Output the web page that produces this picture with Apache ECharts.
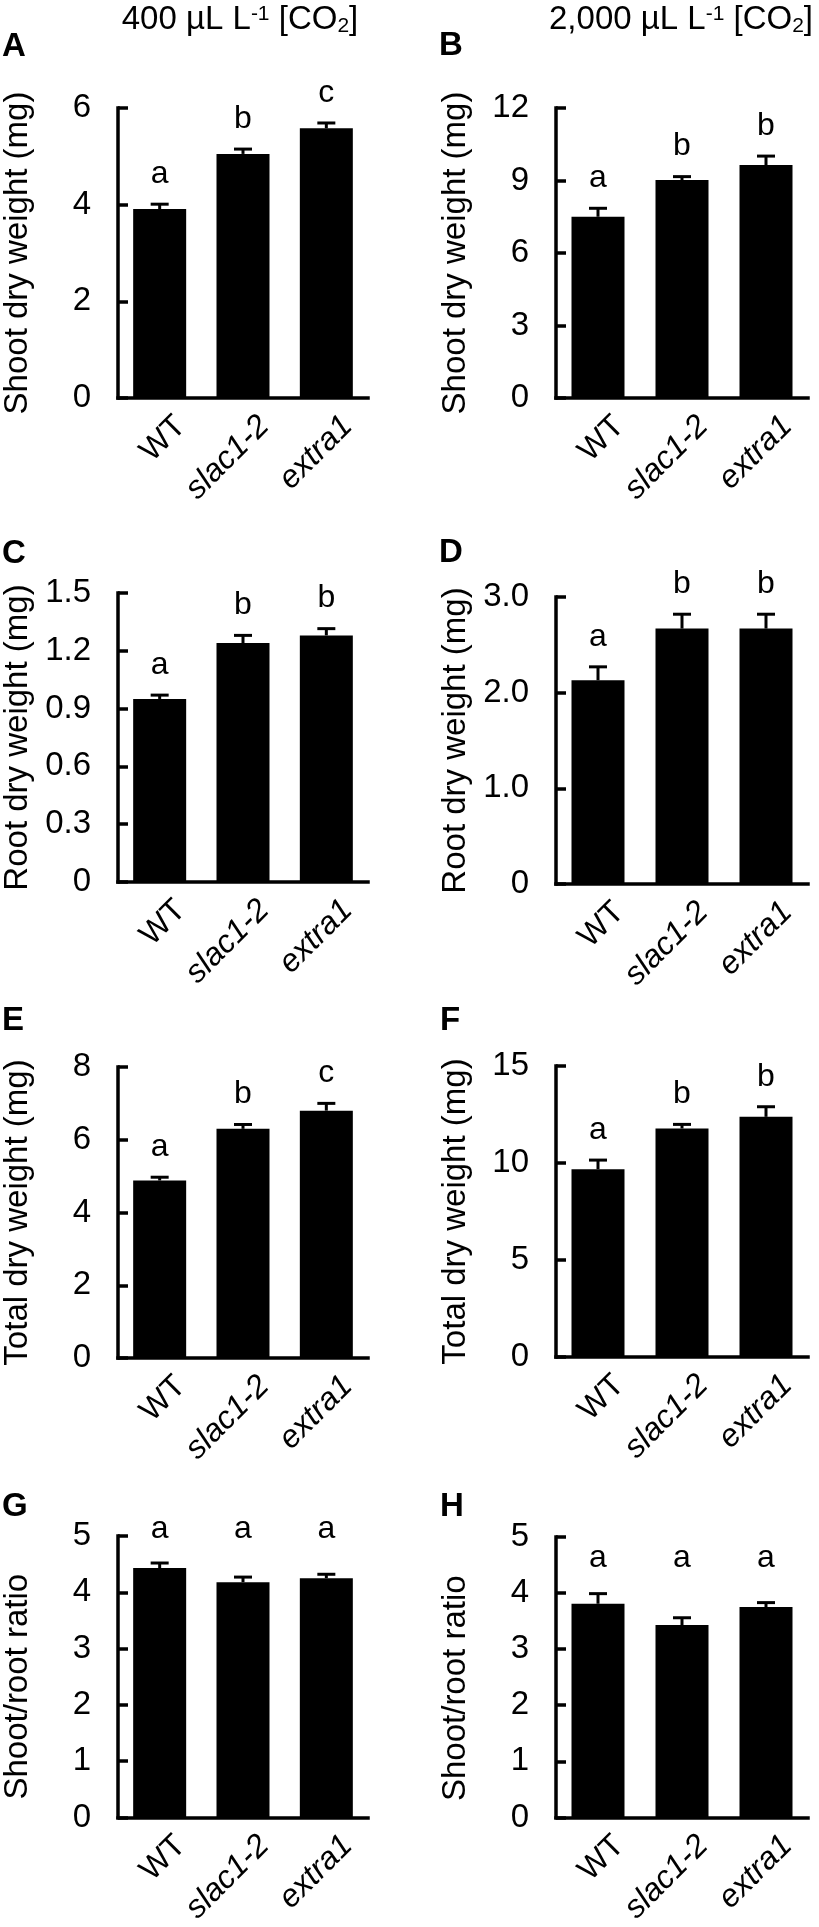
<!DOCTYPE html>
<html>
<head>
<meta charset="utf-8">
<script src="https://cdn.jsdelivr.net/npm/echarts@6/dist/echarts.min.js"></script>
<style>
html,body{margin:0;padding:0;background:#fff;}
#c{width:819px;height:1927px;}
</style>
</head>
<body>
<div id="c"></div>
<script>
// ---------- data ----------
const categories = ['WT', 'slac1-2', 'extra1'];
const italicCategory = [false, true, true];

const shootMean400 = [3.91, 5.05, 5.58];
const shootErr400 = [0.10, 0.10, 0.11];
const shootLetters400 = ['a', 'b', 'c'];

const shootMean2000 = [7.50, 9.02, 9.64];
const shootErr2000 = [0.35, 0.14, 0.37];
const shootLetters2000 = ['a', 'b', 'b'];

const rootMean400 = [0.95, 1.24, 1.28];
const rootErr400 = [0.02, 0.04, 0.035];
const rootLetters400 = ['a', 'b', 'b'];

const rootMean2000 = [2.13, 2.67, 2.67];
const rootErr2000 = [0.14, 0.15, 0.15];
const rootLetters2000 = ['a', 'b', 'b'];

const totalMean400 = [4.88, 6.30, 6.80];
const totalErr400 = [0.09, 0.12, 0.20];
const totalLetters400 = ['a', 'b', 'c'];

const totalMean2000 = [9.68, 11.78, 12.38];
const totalErr2000 = [0.47, 0.21, 0.52];
const totalLetters2000 = ['a', 'b', 'b'];

const ratioMean400 = [4.43, 4.18, 4.25];
const ratioErr400 = [0.09, 0.09, 0.07];
const ratioLetters400 = ['a', 'a', 'a'];
const ratioLetterLevel400 = 4.92;

const ratioMean2000 = [3.81, 3.43, 3.75];
const ratioErr2000 = [0.18, 0.13, 0.08];
const ratioLetters2000 = ['a', 'a', 'a'];
const ratioLetterLevel2000 = 4.43;

const columnTitles = ['400 µL L{sup|-1} [CO{sub|2}]', '2,000 µL L{sup|-1} [CO{sub|2}]'];
const panelLetters = ['A', 'B', 'C', 'D', 'E', 'F', 'G', 'H'];

// axis setups: [max, interval, decimals]
const axisA = [6, 2, 0], axisB = [12, 3, 0], axisC = [1.5, 0.3, 1], axisD = [3, 1, 1];
const axisE = [8, 2, 0], axisF = [15, 5, 0], axisG = [5, 1, 0], axisH = [5, 1, 0];

// ---------- panels ----------
const panels = [
  {mean: shootMean400, err: shootErr400, letters: shootLetters400, ax: axisA, name: 'Shoot dry weight (mg)'},
  {mean: shootMean2000, err: shootErr2000, letters: shootLetters2000, ax: axisB, name: 'Shoot dry weight (mg)'},
  {mean: rootMean400, err: rootErr400, letters: rootLetters400, ax: axisC, name: 'Root dry weight (mg)'},
  {mean: rootMean2000, err: rootErr2000, letters: rootLetters2000, ax: axisD, name: 'Root dry weight (mg)'},
  {mean: totalMean400, err: totalErr400, letters: totalLetters400, ax: axisE, name: 'Total dry weight (mg)'},
  {mean: totalMean2000, err: totalErr2000, letters: totalLetters2000, ax: axisF, name: 'Total dry weight (mg)'},
  {mean: ratioMean400, err: ratioErr400, letters: ratioLetters400, ax: axisG, name: 'Shoot/root ratio', level: ratioLetterLevel400, namePad: [0, 20, 0, 0]},
  {mean: ratioMean2000, err: ratioErr2000, letters: ratioLetters2000, ax: axisH, name: 'Shoot/root ratio', level: ratioLetterLevel2000, namePad: [0, 22, 0, 0]}
];

// ---------- layout ----------
const layouts = [
  {left: 117, top: 108, width: 251, height: 290},
  {left: 556, top: 108, width: 252, height: 290},
  {left: 117, top: 593, width: 251, height: 289},
  {left: 556, top: 597, width: 252, height: 287},
  {left: 117, top: 1067, width: 251, height: 291},
  {left: 556, top: 1066, width: 252, height: 291},
  {left: 117, top: 1536, width: 251, height: 292},
  {left: 556, top: 1537, width: 252, height: 290}
];
const letterPos = [[2, 47], [439, 46], [2, 554], [439, 553], [2, 1021], [440, 1021], [2, 1507], [440, 1507]];
const titlePos = [[240, 20], [681, 20]];

const FONT = '"Liberation Sans", Arial, Helvetica, sans-serif';
const BLACK = '#000';
const CAT_FS = 32;

const grids = [], xAxes = [], yAxes = [], series = [];
panels.forEach((p, i) => {
  grids.push(Object.assign({containLabel: false}, layouts[i]));
  xAxes.push({
    type: 'category', gridIndex: i, data: categories,
    axisLine: {show: true, lineStyle: {color: BLACK, width: 3.5, cap: 'square'}},
    axisTick: {show: false},
    axisLabel: {
      rotate: 45, interval: 0, margin: 2, color: BLACK, fontSize: CAT_FS, fontFamily: FONT,
      verticalAlign: 'top', lineHeight: CAT_FS, padding: [14, 0, 0, 0],
      formatter: (v, idx) => italicCategory[idx] ? '{i|' + v + '}' : '{n|' + v + '}',
      rich: {
        i: {fontStyle: 'italic', fontSize: CAT_FS, fontFamily: FONT, color: BLACK, lineHeight: CAT_FS},
        n: {fontSize: CAT_FS, fontFamily: FONT, color: BLACK, lineHeight: CAT_FS}
      }
    },
    splitLine: {show: false}
  });
  const [mx, iv, dec] = p.ax;
  yAxes.push({
    type: 'value', gridIndex: i, min: 0, max: mx, interval: iv,
    axisLine: {show: true, lineStyle: {color: BLACK, width: 3.5, cap: 'square'}},
    axisTick: {show: true, inside: true, length: 10, lineStyle: {color: BLACK, width: 3.5}},
    splitLine: {show: false},
    axisLabel: {
      color: BLACK, fontSize: 33, fontFamily: FONT, margin: 27,
      formatter: v => (Math.abs(v) < 1e-9 ? '0' : v.toFixed(dec))
    },
    name: p.name, nameLocation: 'middle', nameGap: 84,
    nameTextStyle: {color: BLACK, fontSize: 33, fontFamily: FONT, padding: p.namePad || 0}
  });
  series.push({
    type: 'bar', xAxisIndex: i, yAxisIndex: i, data: p.mean, barWidth: 53,
    itemStyle: {color: BLACK}, silent: true
  });
  series.push({
    type: 'custom', xAxisIndex: i, yAxisIndex: i, clip: false, z: 3, silent: true,
    data: p.mean.map((m, k) => [k, m, p.err[k]]),
    renderItem: (params, api) => {
      const k = api.value(0), m = api.value(1), e = api.value(2);
      const b = api.coord([k, m]);
      const t = api.coord([k, m + e]);
      const half = 9;
      const ly = p.level != null ? api.coord([k, p.level])[1] + 5 : t[1] - 14;
      return {
        type: 'group',
        children: [
          {type: 'line', shape: {x1: b[0], y1: b[1], x2: t[0], y2: t[1]}, style: {stroke: BLACK, lineWidth: 3}},
          {type: 'line', shape: {x1: t[0] - half, y1: t[1], x2: t[0] + half, y2: t[1]}, style: {stroke: BLACK, lineWidth: 3}},
          {type: 'text', style: {x: b[0], y: ly, text: p.letters[params.dataIndex], fontSize: 32, fontFamily: FONT,
            fill: BLACK, align: 'center', verticalAlign: 'bottom'}}
        ]
      };
    }
  });
});

const graphics = [];
panelLetters.forEach((L, i) => {
  graphics.push({type: 'text', x: letterPos[i][0], y: letterPos[i][1],
    style: {text: L, fontSize: 33, fontWeight: 'bold', fontFamily: FONT, fill: BLACK, align: 'left', verticalAlign: 'middle'}});
});
columnTitles.forEach((t, i) => {
  graphics.push({type: 'text', x: titlePos[i][0], y: titlePos[i][1],
    style: {text: t, fontSize: 33, fontFamily: FONT, fill: BLACK, align: 'center', verticalAlign: 'middle',
      rich: {
        sup: {fontSize: 21, fontFamily: FONT, fill: BLACK, verticalAlign: 'top', lineHeight: 20},
        sub: {fontSize: 21, fontFamily: FONT, fill: BLACK, verticalAlign: 'bottom', lineHeight: 20}
      }}});
});

const chart = echarts.init(document.getElementById('c'), null, {renderer: 'canvas', width: 819, height: 1927});
chart.setOption({
  backgroundColor: '#fff',
  animation: false,
  grid: grids, xAxis: xAxes, yAxis: yAxes, series: series,
  graphic: graphics
});
</script>
</body>
</html>
